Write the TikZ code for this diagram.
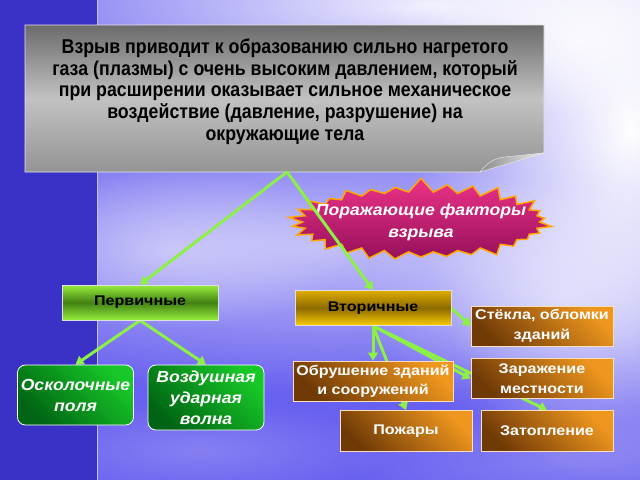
\documentclass[tikz,border=0pt]{standalone}
\usepackage{fontspec}
\setmainfont{Liberation Sans}
\newfontfamily\narrowfont{Liberation Sans}[FakeStretch=0.888]
\newfontfamily\widefont{Liberation Sans}[FakeStretch=1.15]
\newfontfamily\slantfont{Liberation Sans}[FakeStretch=1.1]
\usetikzlibrary{shapes.symbols,arrows.meta,fadings}

\definecolor{bgblue}{RGB}{104,96,240}
\definecolor{stripblue}{RGB}{58,50,198}
\definecolor{arrowgreen}{RGB}{140,240,70}
\definecolor{brdark}{RGB}{112,58,6}
\definecolor{brlight}{RGB}{238,150,30}
\definecolor{grdark}{RGB}{0,100,20}
\definecolor{grlight}{RGB}{24,200,40}
\definecolor{burstpink}{RGB}{236,50,136}
\definecolor{burstdark}{RGB}{150,16,90}
\definecolor{primlight}{RGB}{150,236,60}
\definecolor{primdark}{RGB}{66,130,18}
\definecolor{sectop}{RGB}{222,172,0}
\definecolor{secmid}{RGB}{140,106,0}
\definecolor{secbot}{RGB}{250,204,0}

\tikzfading[name=softcloud, inner color=transparent!0, outer color=transparent!100]

\pgfdeclarelayer{back}
\pgfdeclarelayer{panel}
\pgfdeclarelayer{lines}
\pgfsetlayers{back,panel,lines,main}

\tikzset{
    arr/.style={draw=arrowgreen, line width=3pt, -{Triangle[width=10pt,length=8pt]}},
    level/.style={draw=white!75!gray, line width=0.8pt, minimum width=156pt, minimum height=35pt,
        font=\widefont\bfseries\fontsize{14}{16}\selectfont},
    brownbox/.style={draw=white!70!brlight, line width=0.8pt, top color=brlight, bottom color=brdark,
        shading angle=-45, text=white, align=center, font=\widefont\bfseries\fontsize{14}{19.5}\selectfont},
    greenbox/.style={draw=white, line width=0.8pt, rounded corners=8pt, top color=grlight, bottom color=grdark,
        shading angle=-45, text=white, align=center, font=\slantfont\bfseries\itshape\fontsize{16}{21}\selectfont},
    cloud/.style={fill=white, path fading=softcloud}
}

\begin{document}
\begin{tikzpicture}[x=1pt, y=-1pt]
    \useasboundingbox (0,0) rectangle (640,480);

    % background
    \begin{pgfonlayer}{back}
        \fill[bgblue] (0,0) rectangle (640,480);
        \fill[cloud, opacity=0.9] (430,5) ellipse (520 and 110);
        \fill[cloud] (630,130) ellipse (220 and 360);
        \fill[cloud, opacity=0.8] (580,40) ellipse (200 and 150);
        \fill[cloud, opacity=0.6] (330,245) ellipse (520 and 150);
        \fill[cloud, opacity=0.4] (170,250) ellipse (180 and 80);
        \fill[cloud, opacity=0.5] (560,300) ellipse (200 and 130);
        \fill[cloud, opacity=0.2] (200,450) ellipse (200 and 50);
        \fill[cloud, opacity=0.2] (560,460) ellipse (220 and 60);
        \fill[stripblue] (0,0) rectangle (97,480);
        \draw[white!60!bgblue, line width=1pt] (97,0) -- (97,480);
    \end{pgfonlayer}

    % text nodes
    \node[font=\narrowfont\bfseries\fontsize{20}{21.75}\selectfont, align=center] (blast) at (285,91.5)
        {Взрыв приводит к образованию сильно нагретого\\
         газа (плазмы) с очень высоким давлением, который\\
         при расширении оказывает сильное механическое\\
         воздействие (давление, разрушение) на\\
         окружающие тела};
    \coordinate (blastbot) at (287,172);

    \node[level, top color=primlight, bottom color=primlight, middle color=primdark] (prim) at (140,302.5) {Первичные};
    \node[level, top color=sectop, bottom color=secbot, middle color=secmid] (sec) at (373,308) {Вторичные};

    \node[greenbox, minimum width=115pt, minimum height=60pt] (osk) at (75.5,395) {Осколочные\\поля};
    \node[greenbox, minimum width=116pt, minimum height=65pt] (vozd) at (206,397.5) {Воздушная\\ударная\\волна};

    \node[brownbox, minimum width=142pt, minimum height=40pt] (st) at (542,326) {Стёкла, обломки\\зданий};
    \node[brownbox, minimum width=142pt, minimum height=40pt] (zar) at (542,378.5) {Заражение\\местности};
    \node[brownbox, minimum width=157pt, minimum height=40pt] (obr) at (373,381) {Обрушение зданий\\и сооружений};
    \node[brownbox, minimum width=132pt, minimum height=41pt] (pozh) at (406,431) {Пожары};
    \node[brownbox, minimum width=132pt, minimum height=41pt] (zat) at (547,431) {Затопление};

    % panel and starburst
    \begin{pgfonlayer}{panel}
        \shade[top color=black!58, bottom color=black!42, middle color=black!24, draw=white!80!gray, line width=0.8pt]
            (25,25) -- (544,25) -- (544,153) .. controls (520,156) and (495,160) .. (480,172) -- (25,172) -- cycle;
        \shade[left color=black!45, right color=black!8, draw=white!80!gray, line width=0.5pt]
            (480,172) .. controls (488,162) and (495,158) .. (505,157) -- (544,153) -- cycle;
        \node[starburst, starburst points=30, starburst point height=15pt, random starburst=7,
            minimum width=267pt, minimum height=90pt, inner sep=0pt, draw=orange!70!yellow, line width=1.5pt,
            top color=burstpink, bottom color=burstdark, text=white,
            font=\slantfont\bfseries\itshape\fontsize{16}{22}\selectfont, align=center] (factors) at (421,222)
            {\makebox[0pt]{Поражающие факторы}\\\makebox[0pt]{взрыва}};
    \end{pgfonlayer}

    % connectors
    \begin{pgfonlayer}{lines}
        \draw[arr] (blastbot) -- (prim.north);
        \draw[arr] (blastbot) -- (sec.north);
        \draw[arr] (prim.south) -- (osk.north);
        \draw[arr] (prim.south) -- (vozd.north);
        \draw[arr] (sec.east) -- (st.west);
        \draw[arr] (sec.south) -- (obr.north);
        \draw[arr] (sec.south) -- (pozh.north);
        \draw[arr] (sec.south) -- (zar.west);
        \draw[arr] (sec.south) -- (zat.north);
    \end{pgfonlayer}
\end{tikzpicture}
\end{document}
